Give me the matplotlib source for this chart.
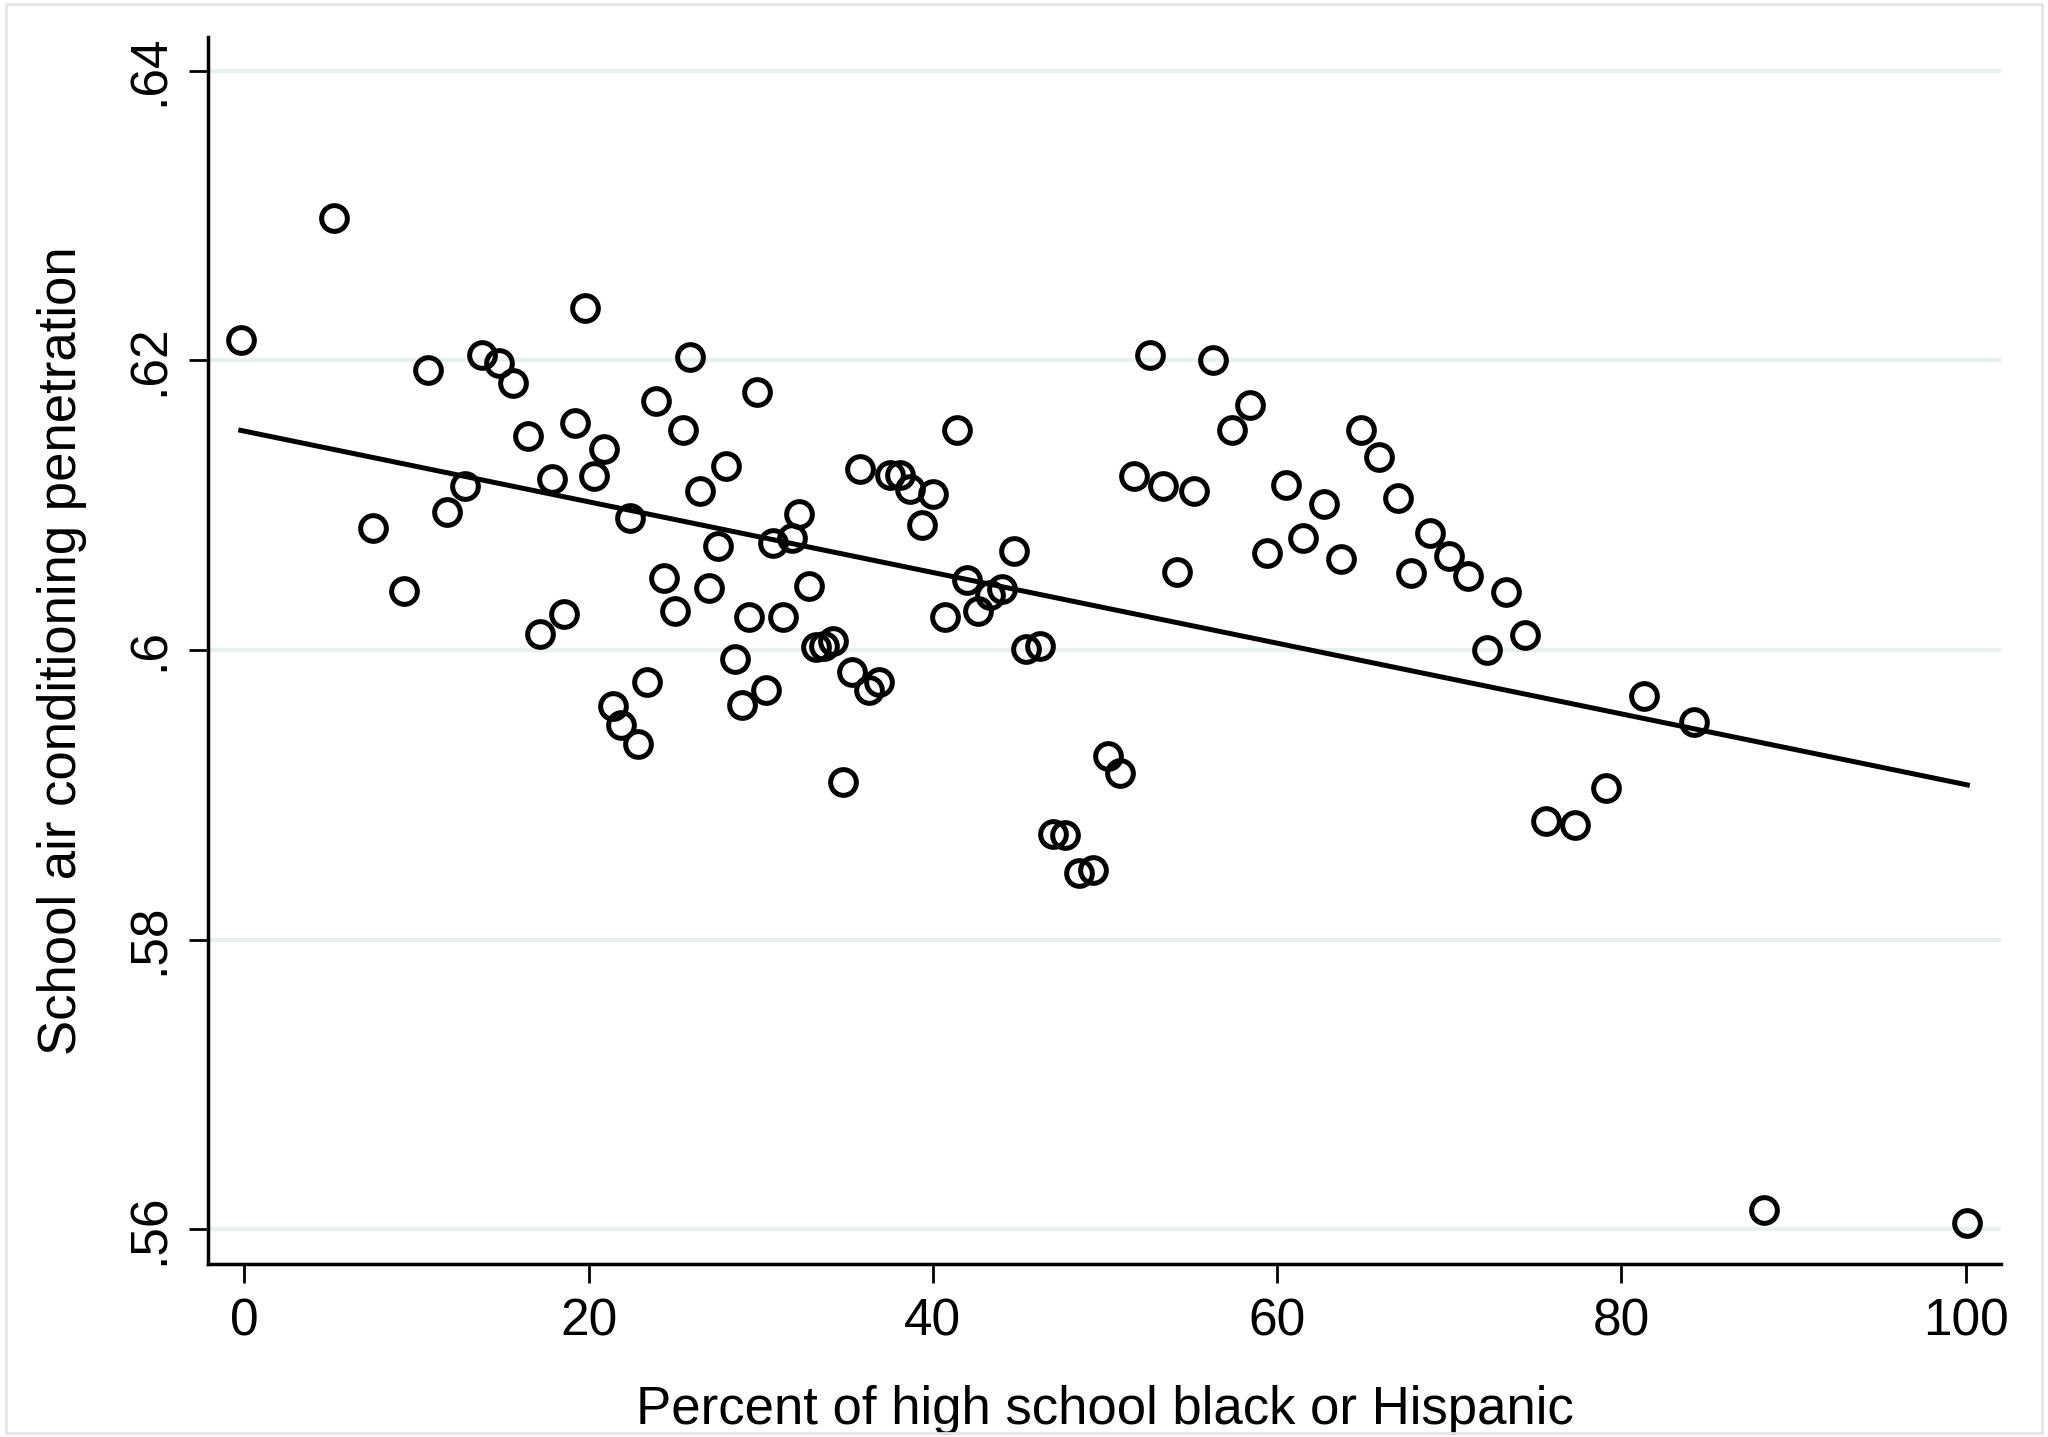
import numpy as np
import matplotlib
matplotlib.use("Agg")
import matplotlib.pyplot as plt
from matplotlib.patches import Rectangle

plt.rcParams['font.family'] = ['Liberation Sans', 'DejaVu Sans']

# binned scatter: percent black/hispanic vs. school AC penetration
pct_minority = [-0.2, 5.2, 7.5, 9.3, 10.7, 11.8, 12.8, 13.8, 14.8, 15.6,
                16.5, 17.2, 17.9, 18.6, 19.2, 19.8, 20.3, 20.9, 21.4, 21.9,
                22.4, 22.9, 23.4, 23.9, 24.4, 25.0, 25.5, 25.9, 26.5, 27.0,
                27.5, 28.0, 28.5, 28.9, 29.3, 29.8, 30.3, 30.7, 31.3, 31.8,
                32.2, 32.8, 33.2, 33.7, 34.2, 34.8, 35.3, 35.8, 36.3, 36.9,
                37.5, 38.1, 38.7, 39.4, 40.0, 40.7, 41.4, 42.0, 42.6, 43.3,
                44.0, 44.7, 45.4, 46.2, 47.0, 47.7, 48.5, 49.3, 50.2, 50.9,
                51.7, 52.6, 53.4, 54.2, 55.2, 56.3, 57.4, 58.4, 59.4, 60.5,
                61.5, 62.7, 63.7, 64.9, 65.9, 67.0, 67.8, 68.9, 70.0, 71.1,
                72.2, 73.3, 74.4, 75.6, 77.3, 79.1, 81.3, 84.2, 88.3, 100.1]
ac_share = [0.6214, 0.6298, 0.6084, 0.6041, 0.6193, 0.6095, 0.6113, 0.6204, 0.6198, 0.6184,
            0.6148, 0.6011, 0.6118, 0.6025, 0.6157, 0.6236, 0.6120, 0.6139, 0.5961, 0.5948,
            0.6091, 0.5935, 0.5978, 0.6172, 0.6050, 0.6027, 0.6152, 0.6202, 0.6110, 0.6043,
            0.6072, 0.6127, 0.5994, 0.5962, 0.6023, 0.6178, 0.5972, 0.6074, 0.6023, 0.6077,
            0.6094, 0.6044, 0.6002, 0.6003, 0.6006, 0.5909, 0.5985, 0.6125, 0.5972, 0.5978,
            0.6121, 0.6121, 0.6111, 0.6086, 0.6108, 0.6023, 0.6152, 0.6048, 0.6027, 0.6038,
            0.6042, 0.6068, 0.6001, 0.6003, 0.5873, 0.5872, 0.5846, 0.5848, 0.5927, 0.5915,
            0.6120, 0.6204, 0.6113, 0.6054, 0.6110, 0.6200, 0.6152, 0.6169, 0.6067, 0.6114,
            0.6077, 0.6101, 0.6063, 0.6152, 0.6133, 0.6105, 0.6053, 0.6081, 0.6065, 0.6051,
            0.6000, 0.6040, 0.6010, 0.5882, 0.5879, 0.5905, 0.5968, 0.5950, 0.5613, 0.5604]

yticks = [0.56, 0.58, 0.60, 0.62, 0.64]
ytick_labels = ['.56', '.58', '.6', '.62', '.64']
xticks = [0, 20, 40, 60, 80, 100]

x = np.array(pct_minority)
y = np.array(ac_share)
slope, intercept = np.polyfit(x, y, 1)
xfit = np.array([x.min(), x.max()])

fig = plt.figure(figsize=(20.48, 14.37), dpi=100)
ax = fig.add_axes([0.1016, 0.1204, 0.8754, 0.8536])

for t in yticks:
    ax.axhline(t, color='#e8f0f0', lw=3, zorder=0)

ax.plot(x, y, 'o', ms=18.5, mfc='none', mec='black', mew=3.6, zorder=3)
ax.plot(xfit, intercept + slope * xfit, color='black', lw=3.6, zorder=2)

ax.set_xlim(-2.1, 102.05)
ax.set_ylim(0.5576, 0.6423)
ax.set_yticks(yticks)
ax.set_yticklabels(ytick_labels, rotation=90, va='center')
ax.set_xticks(xticks)

for s in ['top', 'right']:
    ax.spines[s].set_visible(False)
ax.spines['left'].set_linewidth(2.5)
ax.spines['bottom'].set_linewidth(2.5)
ax.tick_params(axis='both', labelsize=37, width=2, length=14, pad=10)

ax.set_xlabel('Percent of high school black or Hispanic', fontsize=38, labelpad=28)
ax.set_ylabel('School air conditioning penetration', fontsize=38, labelpad=28)

fig.patches.append(Rectangle((0.003, 0.003), 0.994, 0.994, transform=fig.transFigure,
                             fill=False, edgecolor='#e6e6e6', lw=2))

fig.savefig('out.png', dpi=100)
